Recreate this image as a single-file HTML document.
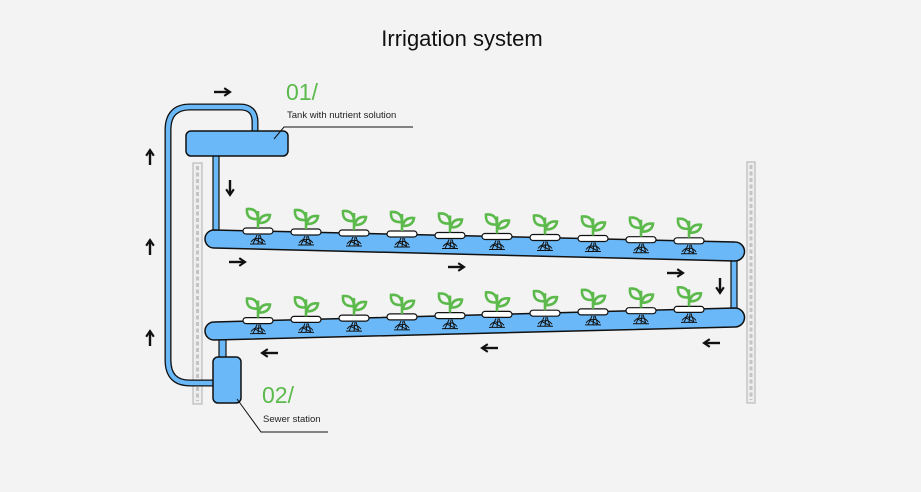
<!DOCTYPE html>
<html><head><meta charset="utf-8"><style>
body{margin:0;background:#f3f3f3;}
svg{display:block;font-family:"Liberation Sans",sans-serif;}
</style></head><body>
<svg width="921" height="492" viewBox="0 0 921 492">
<defs>
<g id="p">
<path d="M-5,13 L-1,4 M0,13 L1,4 M5,13 L2,4 M-7,11 Q-3,6 0,8 Q3,6 7,11 M-4,8 L4,12 M-8,13 L8,13" stroke="#111" stroke-width="1" fill="none"/>
<rect x="-15" y="-3" width="30" height="6" rx="3" fill="#fff" stroke="#111" stroke-width="1.2"/>
<line x1="0" y1="-3" x2="0" y2="-20" stroke="#5cba4c" stroke-width="2.6"/>
<path d="M0,-12 Q-12,-11 -11,-22 Q-1,-23 0,-13" stroke="#5cba4c" stroke-width="2.6" fill="none"/>
<path d="M1,-8 Q11,-8 12,-16 Q3,-17 1,-9" stroke="#5cba4c" stroke-width="2.6" fill="none"/>
</g>
<marker id="a" viewBox="0 0 10 10" refX="8" refY="5" markerWidth="4" markerHeight="4" orient="auto"><path d="M2,1 L8,5 L2,9" fill="none" stroke="#111" stroke-width="2.2"/></marker>
</defs>
<text x="462" y="46" text-anchor="middle" font-size="22" fill="#111">Irrigation system</text>
<rect x="193" y="163" width="9" height="241" fill="#eee" stroke="#bbb" stroke-width="1.2"/>
<line x1="197.5" y1="166" x2="197.5" y2="401" stroke="#c4c4c4" stroke-width="3" stroke-dasharray="4,2.5"/>
<rect x="747" y="162" width="8" height="241" fill="#eee" stroke="#bbb" stroke-width="1.2"/>
<line x1="751" y1="165" x2="751" y2="400" stroke="#c4c4c4" stroke-width="3" stroke-dasharray="4,2.5"/>
<path d="M255,133 L255,122 Q255,107 240,107 L190,107 Q168,107 168,130 L168,360 Q168,383 190,383 L214,383" fill="none" stroke="#111" stroke-width="7"/>
<path d="M255,133 L255,122 Q255,107 240,107 L190,107 Q168,107 168,130 L168,360 Q168,383 190,383 L214,383" fill="none" stroke="#6ab8f7" stroke-width="4.4"/>
<rect x="213" y="155" width="6" height="77" fill="#6ab8f7" stroke="#111" stroke-width="1.2"/>
<rect x="731" y="255" width="6" height="57" fill="#6ab8f7" stroke="#111" stroke-width="1.2"/>
<rect x="219" y="336" width="7" height="23" fill="#6ab8f7" stroke="#111" stroke-width="1.2"/>
<rect x="186" y="131" width="102" height="25" rx="5" fill="#6ab8f7" stroke="#111" stroke-width="1.5"/>
<rect x="213" y="357" width="28" height="46" rx="5" fill="#6ab8f7" stroke="#111" stroke-width="1.5"/>
<path d="M214,230 L735,242 A9.5,9.5 0 0 1 735,261 L214,248 A9,9 0 0 1 214,230 Z" fill="#6ab8f7" stroke="#111" stroke-width="1.5"/>
<path d="M214,322 L735,308 A9.5,9.5 0 0 1 735,327 L214,340 A9,9 0 0 1 214,322 Z" fill="#6ab8f7" stroke="#111" stroke-width="1.5"/>
<use href="#p" x="258" y="231"/><use href="#p" x="306" y="232"/><use href="#p" x="354" y="233"/><use href="#p" x="402" y="234"/><use href="#p" x="450" y="235.5"/><use href="#p" x="497" y="236.5"/><use href="#p" x="545" y="237.5"/><use href="#p" x="593" y="238.5"/><use href="#p" x="641" y="239.7"/><use href="#p" x="689" y="240.8"/>
<use href="#p" x="258" y="320.6"/><use href="#p" x="306" y="319.4"/><use href="#p" x="354" y="318.1"/><use href="#p" x="402" y="316.9"/><use href="#p" x="450" y="315.6"/><use href="#p" x="497" y="314.4"/><use href="#p" x="545" y="313.2"/><use href="#p" x="593" y="311.9"/><use href="#p" x="641" y="310.7"/><use href="#p" x="689" y="309.4"/>
<g stroke="#111" stroke-width="2.4" marker-end="url(#a)">
<line x1="214" y1="92" x2="230" y2="92"/>
<line x1="150" y1="165" x2="150" y2="150"/>
<line x1="150" y1="255" x2="150" y2="240"/>
<line x1="150" y1="346" x2="150" y2="331"/>
<line x1="230" y1="180" x2="230" y2="195"/>
<line x1="229" y1="262" x2="245" y2="262"/>
<line x1="448" y1="267" x2="464" y2="267"/>
<line x1="667" y1="273" x2="683" y2="273"/>
<line x1="720" y1="278" x2="720" y2="293"/>
<line x1="720" y1="343" x2="704" y2="343"/>
<line x1="498" y1="348" x2="482" y2="348"/>
<line x1="278" y1="353" x2="262" y2="353"/>
</g>
<text x="286" y="100" font-size="23" fill="#5cba4c">01/</text>
<text x="287" y="118" font-size="9.5" fill="#222">Tank with nutrient solution</text>
<path d="M274,139 L284,127 L413,127" fill="none" stroke="#111" stroke-width="1"/>
<text x="262" y="403" font-size="23" fill="#5cba4c">02/</text>
<text x="263" y="422" font-size="9.5" fill="#222">Sewer station</text>
<path d="M237,399 L261,432 L328,432" fill="none" stroke="#111" stroke-width="1"/>
</svg>
</body></html>
